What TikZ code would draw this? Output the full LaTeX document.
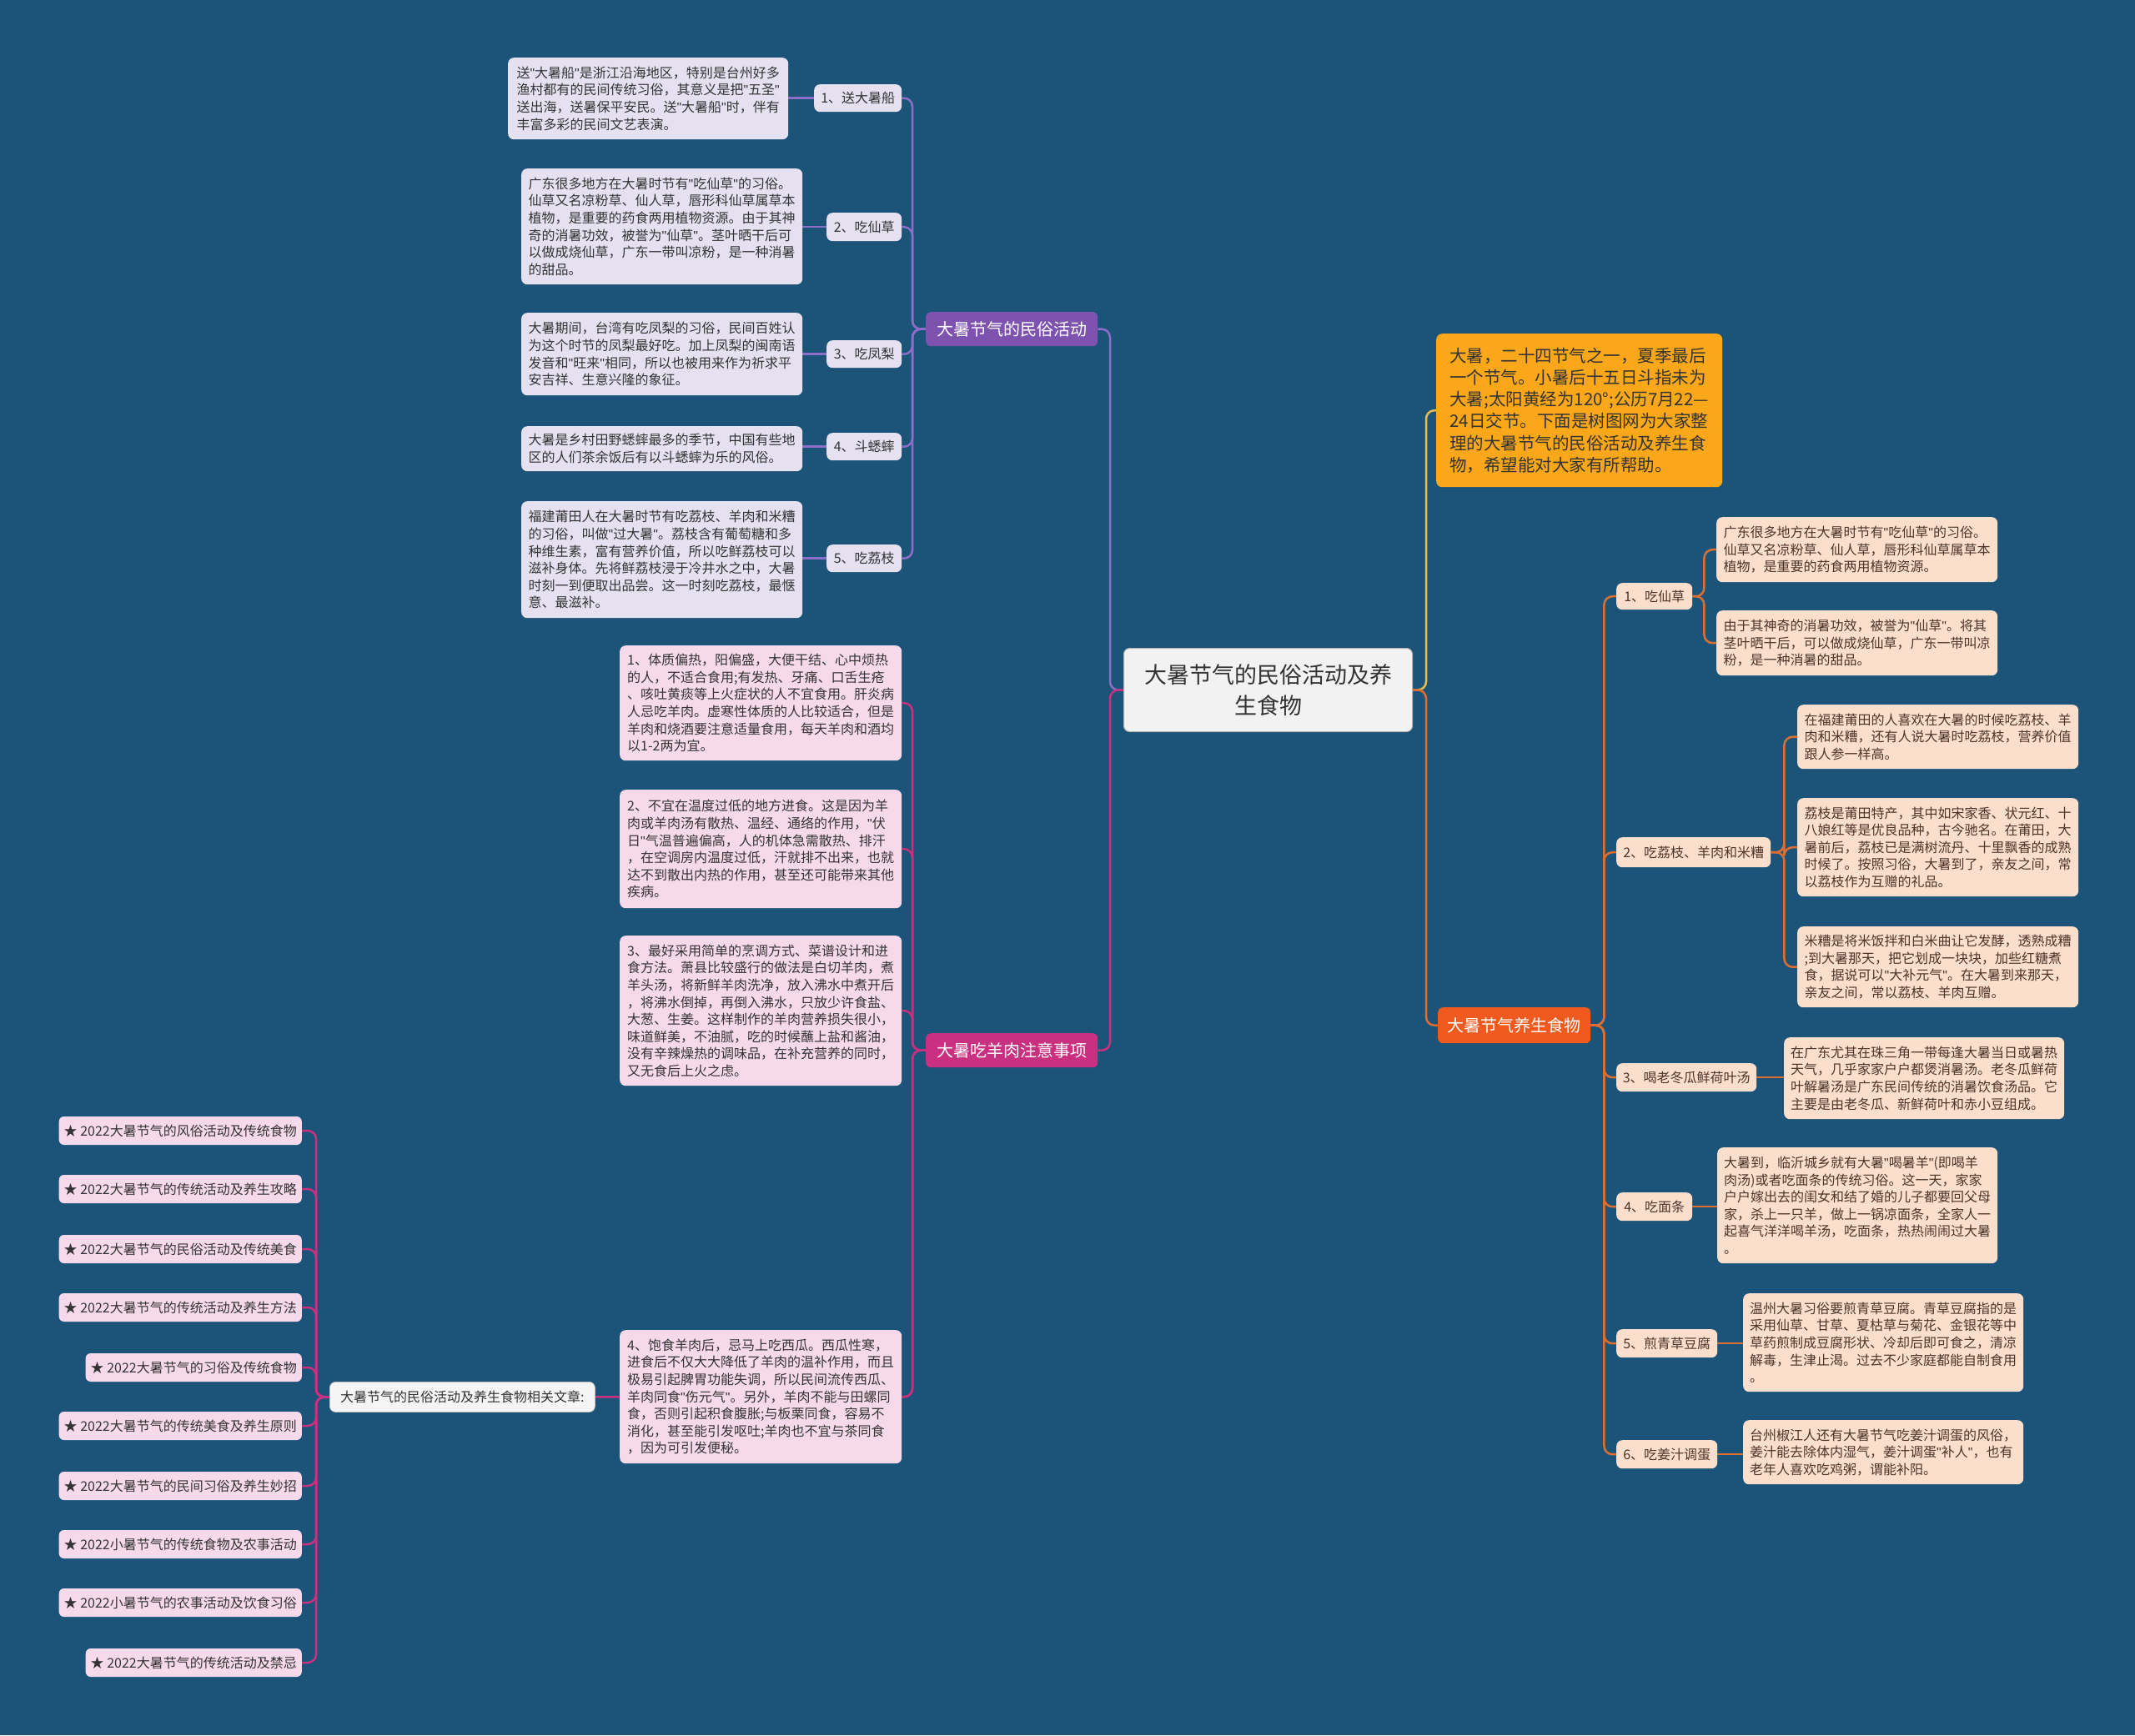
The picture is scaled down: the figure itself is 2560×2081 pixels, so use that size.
\documentclass[tikz,border=0pt]{standalone}
\usepackage{fontspec}
\setmainfont{Noto Sans CJK SC}
\newfontfamily\latf{Liberation Sans}
\newcommand{\dq}{{\latf"}}
\definecolor{bgc}{HTML}{1B5478}
\definecolor{pbr}{HTML}{7D53AF}
\definecolor{plv}{HTML}{E5E1F1}
\definecolor{pcn}{HTML}{8C6EC8}
\definecolor{mbr}{HTML}{C93080}
\definecolor{mpk}{HTML}{F6DAEB}
\definecolor{mcn}{HTML}{C93080}
\definecolor{obr}{HTML}{F05A1E}
\definecolor{opc}{HTML}{FCDECD}
\definecolor{ocn}{HTML}{DC6E32}
\definecolor{yin}{HTML}{FAA71A}
\definecolor{ycn}{HTML}{E6BE50}
\definecolor{txd}{HTML}{333333}
\definecolor{txb}{HTML}{4A3528}
\pgfdeclarelayer{bgl}
\pgfdeclarelayer{cl}
\pgfsetlayers{bgl,cl,main}
\tikzset{
  box/.style={rounded corners=7pt, inner sep=0pt, align=left, anchor=north west},
  small/.style={font=\fontsize{16}{20.6}\selectfont},
  lav/.style={box, small, fill=plv, text=txd},
  pnk/.style={box, small, fill=mpk, text=txd},
  pch/.style={box, small, fill=opc, text=txb},
  art/.style={rounded corners=6pt, inner xsep=6pt, minimum height=34pt, anchor=east, small, fill=mpk, text=txd},
  brn/.style={rounded corners=6pt, inner sep=0pt, align=center, anchor=north west, font=\fontsize{20}{24}\selectfont, text=white},
  conn/.style={line width=2.5pt, rounded corners=10pt},
  pc/.style={conn, draw=pcn},
  mc/.style={conn, draw=mcn},
  oc/.style={conn, draw=ocn},
  yc/.style={conn, draw=ycn},
}
\begin{document}
\begin{tikzpicture}[x=1pt,y=-1pt]
\useasboundingbox (0,0) rectangle (2560,2081);
\begin{pgfonlayer}{bgl}
\fill[bgc] (0,0) rectangle (2560,2081);
\end{pgfonlayer}

% center
\node[box, align=center, fill=black!5, draw=black!30, line width=1pt, text=txd, font=\fontsize{27}{37.5}\selectfont, minimum width=346pt, minimum height=100pt] (c) at (1347,777) {大暑节气的民俗活动及养\\生食物};

% intro
\node[box, fill=yin, text=black!80, font=\fontsize{20.5}{26.2}\selectfont, minimum width=343pt, minimum height=184pt] (intro) at (1722,400) {大暑，二十四节气之一，夏季最后\\一个节气。小暑后十五日斗指未为\\大暑;太阳黄经为120°;公历7月22—\\24日交节。下面是树图网为大家整\\理的大暑节气的民俗活动及养生食\\物，希望能对大家有所帮助。};

% branches
\node[brn, fill=pbr, minimum width=206pt, minimum height=41pt] (pb) at (1110,374) {大暑节气的民俗活动};
\node[brn, fill=mbr, minimum width=206pt, minimum height=41pt] (mb) at (1110,1239) {大暑吃羊肉注意事项};
\node[brn, fill=obr, minimum width=183pt, minimum height=43pt] (yb) at (1724,1208) {大暑节气养生食物};
\node[box, align=center, small, fill=black!4, draw=black!25, line width=0.8pt, text=txd, minimum width=318pt, minimum height=36pt] (rel) at (395,1657) {大暑节气的民俗活动及养生食物相关文章:};

% purple subtopics
\node[lav, align=center, minimum width=105pt, minimum height=33pt] (s1) at (976,101) {1、送大暑船};
\node[lav, align=center, minimum width=90pt, minimum height=34pt] (s2) at (991,255) {2、吃仙草};
\node[lav, align=center, minimum width=90pt, minimum height=33pt] (s3) at (991,408) {3、吃凤梨};
\node[lav, align=center, minimum width=90pt, minimum height=33pt] (s4) at (991,519) {4、斗蟋蟀};
\node[lav, align=center, minimum width=90pt, minimum height=33pt] (s5) at (991,653) {5、吃荔枝};

% purple leaves
\node[lav, minimum width=336pt, minimum height=98pt] (l1) at (609,69) {送\dq{}大暑船\dq{}是浙江沿海地区，特别是台州好多\\渔村都有的民间传统习俗，其意义是把\dq{}五圣\dq{}\\送出海，送暑保平安民。送\dq{}大暑船\dq{}时，伴有\\丰富多彩的民间文艺表演。};
\node[lav, minimum width=337pt, minimum height=139pt] (l2) at (625,202) {广东很多地方在大暑时节有\dq{}吃仙草\dq{}的习俗。\\仙草又名凉粉草、仙人草，唇形科仙草属草本\\植物，是重要的药食两用植物资源。由于其神\\奇的消暑功效，被誉为\dq{}仙草\dq{}。茎叶晒干后可\\以做成烧仙草，广东一带叫凉粉，是一种消暑\\的甜品。};
\node[lav, minimum width=337pt, minimum height=99pt] (l3) at (625,375) {大暑期间，台湾有吃凤梨的习俗，民间百姓认\\为这个时节的凤梨最好吃。加上凤梨的闽南语\\发音和\dq{}旺来\dq{}相同，所以也被用来作为祈求平\\安吉祥、生意兴隆的象征。};
\node[lav, minimum width=337pt, minimum height=54pt] (l4) at (625,511) {大暑是乡村田野蟋蟀最多的季节，中国有些地\\区的人们茶余饭后有以斗蟋蟀为乐的风俗。};
\node[lav, minimum width=337pt, minimum height=140pt] (l5) at (625,601) {福建莆田人在大暑时节有吃荔枝、羊肉和米糟\\的习俗，叫做\dq{}过大暑\dq{}。荔枝含有葡萄糖和多\\种维生素，富有营养价值，所以吃鲜荔枝可以\\滋补身体。先将鲜荔枝浸于冷井水之中，大暑\\时刻一到便取出品尝。这一时刻吃荔枝，最惬\\意、最滋补。};

% mutton leaves
\node[pnk, minimum width=338pt, minimum height=138pt] (m1) at (743,774) {1、体质偏热，阳偏盛，大便干结、心中烦热\\的人，不适合食用;有发热、牙痛、口舌生疮\\、咳吐黄痰等上火症状的人不宜食用。肝炎病\\人忌吃羊肉。虚寒性体质的人比较适合，但是\\羊肉和烧酒要注意适量食用，每天羊肉和酒均\\以1-2两为宜。};
\node[pnk, minimum width=338pt, minimum height=142pt] (m2) at (743,947) {2、不宜在温度过低的地方进食。这是因为羊\\肉或羊肉汤有散热、温经、通络的作用，\dq{}伏\\日\dq{}气温普遍偏高，人的机体急需散热、排汗\\，在空调房内温度过低，汗就排不出来，也就\\达不到散出内热的作用，甚至还可能带来其他\\疾病。};
\node[pnk, minimum width=338pt, minimum height=180pt] (m3) at (743,1122) {3、最好采用简单的烹调方式、菜谱设计和进\\食方法。萧县比较盛行的做法是白切羊肉，煮\\羊头汤，将新鲜羊肉洗净，放入沸水中煮开后\\，将沸水倒掉，再倒入沸水，只放少许食盐、\\大葱、生姜。这样制作的羊肉营养损失很小，\\味道鲜美，不油腻，吃的时候蘸上盐和酱油，\\没有辛辣燥热的调味品，在补充营养的同时，\\又无食后上火之虑。};
\node[pnk, minimum width=338pt, minimum height=160pt] (m4) at (743,1595) {4、饱食羊肉后，忌马上吃西瓜。西瓜性寒，\\进食后不仅大大降低了羊肉的温补作用，而且\\极易引起脾胃功能失调，所以民间流传西瓜、\\羊肉同食\dq{}伤元气\dq{}。另外，羊肉不能与田螺同\\食，否则引起积食腹胀;与板栗同食，容易不\\消化，甚至能引发呕吐;羊肉也不宜与茶同食\\，因为可引发便秘。};

% articles
\node[art] (a1) at (362,1356) {★ 2022大暑节气的风俗活动及传统食物};
\node[art] (a2) at (362,1426) {★ 2022大暑节气的传统活动及养生攻略};
\node[art] (a3) at (362,1498) {★ 2022大暑节气的民俗活动及传统美食};
\node[art] (a4) at (362,1568) {★ 2022大暑节气的传统活动及养生方法};
\node[art] (a5) at (362,1640) {★ 2022大暑节气的习俗及传统食物};
\node[art] (a6) at (362,1710) {★ 2022大暑节气的传统美食及养生原则};
\node[art] (a7) at (362,1782) {★ 2022大暑节气的民间习俗及养生妙招};
\node[art] (a8) at (362,1852) {★ 2022小暑节气的传统食物及农事活动};
\node[art] (a9) at (362,1922) {★ 2022小暑节气的农事活动及饮食习俗};
\node[art] (a10) at (362,1994) {★ 2022大暑节气的传统活动及禁忌};

% right subtopics
\node[pch, align=center, minimum width=91pt, minimum height=32pt] (r1) at (1938,699) {1、吃仙草};
\node[pch, align=center, minimum width=185pt, minimum height=36pt] (r2) at (1938,1004) {2、吃荔枝、羊肉和米糟};
\node[pch, align=center, minimum width=168pt, minimum height=34pt] (r3) at (1938,1275) {3、喝老冬瓜鲜荷叶汤};
\node[pch, align=center, minimum width=91pt, minimum height=34pt] (r4) at (1938,1430) {4、吃面条};
\node[pch, align=center, minimum width=121pt, minimum height=34pt] (r5) at (1938,1594) {5、煎青草豆腐};
\node[pch, align=center, minimum width=121pt, minimum height=34pt] (r6) at (1938,1727) {6、吃姜汁调蛋};

% right leaves
\node[pch, minimum width=337pt, minimum height=78pt] (r1a) at (2058,620) {广东很多地方在大暑时节有\dq{}吃仙草\dq{}的习俗。\\仙草又名凉粉草、仙人草，唇形科仙草属草本\\植物，是重要的药食两用植物资源。};
\node[pch, minimum width=337pt, minimum height=78pt] (r1b) at (2058,732) {由于其神奇的消暑功效，被誉为\dq{}仙草\dq{}。将其\\茎叶晒干后，可以做成烧仙草，广东一带叫凉\\粉，是一种消暑的甜品。};
\node[pch, minimum width=337pt, minimum height=77pt] (r2a) at (2155,845) {在福建莆田的人喜欢在大暑的时候吃荔枝、羊\\肉和米糟，还有人说大暑时吃荔枝，营养价值\\跟人参一样高。};
\node[pch, minimum width=337pt, minimum height=118pt] (r2b) at (2155,957) {荔枝是莆田特产，其中如宋家香、状元红、十\\八娘红等是优良品种，古今驰名。在莆田，大\\暑前后，荔枝已是满树流丹、十里飘香的成熟\\时候了。按照习俗，大暑到了，亲友之间，常\\以荔枝作为互赠的礼品。};
\node[pch, minimum width=337pt, minimum height=97pt] (r2c) at (2155,1111) {米糟是将米饭拌和白米曲让它发酵，透熟成糟\\;到大暑那天，把它划成一块块，加些红糖煮\\食，据说可以\dq{}大补元气\dq{}。在大暑到来那天，\\亲友之间，常以荔枝、羊肉互赠。};
\node[pch, minimum width=336pt, minimum height=98pt] (r3l) at (2139,1244) {在广东尤其在珠三角一带每逢大暑当日或暑热\\天气，几乎家家户户都煲消暑汤。老冬瓜鲜荷\\叶解暑汤是广东民间传统的消暑饮食汤品。它\\主要是由老冬瓜、新鲜荷叶和赤小豆组成。};
\node[pch, minimum width=336pt, minimum height=139pt] (r4l) at (2059,1376) {大暑到，临沂城乡就有大暑\dq{}喝暑羊\dq{}(即喝羊\\肉汤)或者吃面条的传统习俗。这一天，家家\\户户嫁出去的闺女和结了婚的儿子都要回父母\\家，杀上一只羊，做上一锅凉面条，全家人一\\起喜气洋洋喝羊汤，吃面条，热热闹闹过大暑\\。};
\node[pch, minimum width=336pt, minimum height=118pt] (r5l) at (2090,1551) {温州大暑习俗要煎青草豆腐。青草豆腐指的是\\采用仙草、甘草、夏枯草与菊花、金银花等中\\草药煎制成豆腐形状、冷却后即可食之，清凉\\解毒，生津止渴。过去不少家庭都能自制食用\\。};
\node[pch, minimum width=336pt, minimum height=77pt] (r6l) at (2090,1703) {台州椒江人还有大暑节气吃姜汁调蛋的风俗，\\姜汁能去除体内湿气，姜汁调蛋\dq{}补人\dq{}，也有\\老年人喜欢吃鸡粥，谓能补阳。};

% connectors
\begin{pgfonlayer}{cl}
\draw[pc] (c.west) -- ++(-16,0) |- (pb.east);
\draw[mc] (c.west) -- ++(-16,0) |- (mb.east);
\draw[yc] (c.east) -- ++(16,0) |- (intro.west);
\draw[oc] (c.east) -- ++(16,0) |- (yb.west);
\foreach \n in {s1,s2,s3,s4,s5} \draw[pc] (pb.west) -- ++(-16,0) |- (\n.east);
\foreach \n/\m in {s1/l1,s2/l2,s3/l3,s4/l4,s5/l5} \draw[pc] (\n.west) -- (\m.east |- \n.west);
\foreach \n in {m1,m2,m3,m4,rel} \draw[mc] (mb.west) -- ++(-16,0) |- (\n.east);
\foreach \n in {a1,a2,a3,a4,a5,a6,a7,a8,a9,a10} \draw[mc] (rel.west) -- ++(-16,0) |- (\n.east);
\foreach \n in {r1,r2,r3,r4,r5,r6} \draw[oc] (yb.east) -- ++(16,0) |- (\n.west);
\foreach \n in {r1a,r1b} \draw[oc] (r1.east) -- ++(14,0) |- (\n.west);
\foreach \n in {r2a,r2b,r2c} \draw[oc] (r2.east) -- ++(16,0) |- (\n.west);
\foreach \n/\m in {r3/r3l,r4/r4l,r5/r5l,r6/r6l} \draw[oc] (\n.east) -- (\m.west |- \n.east);
\end{pgfonlayer}
\end{tikzpicture}
\end{document}
